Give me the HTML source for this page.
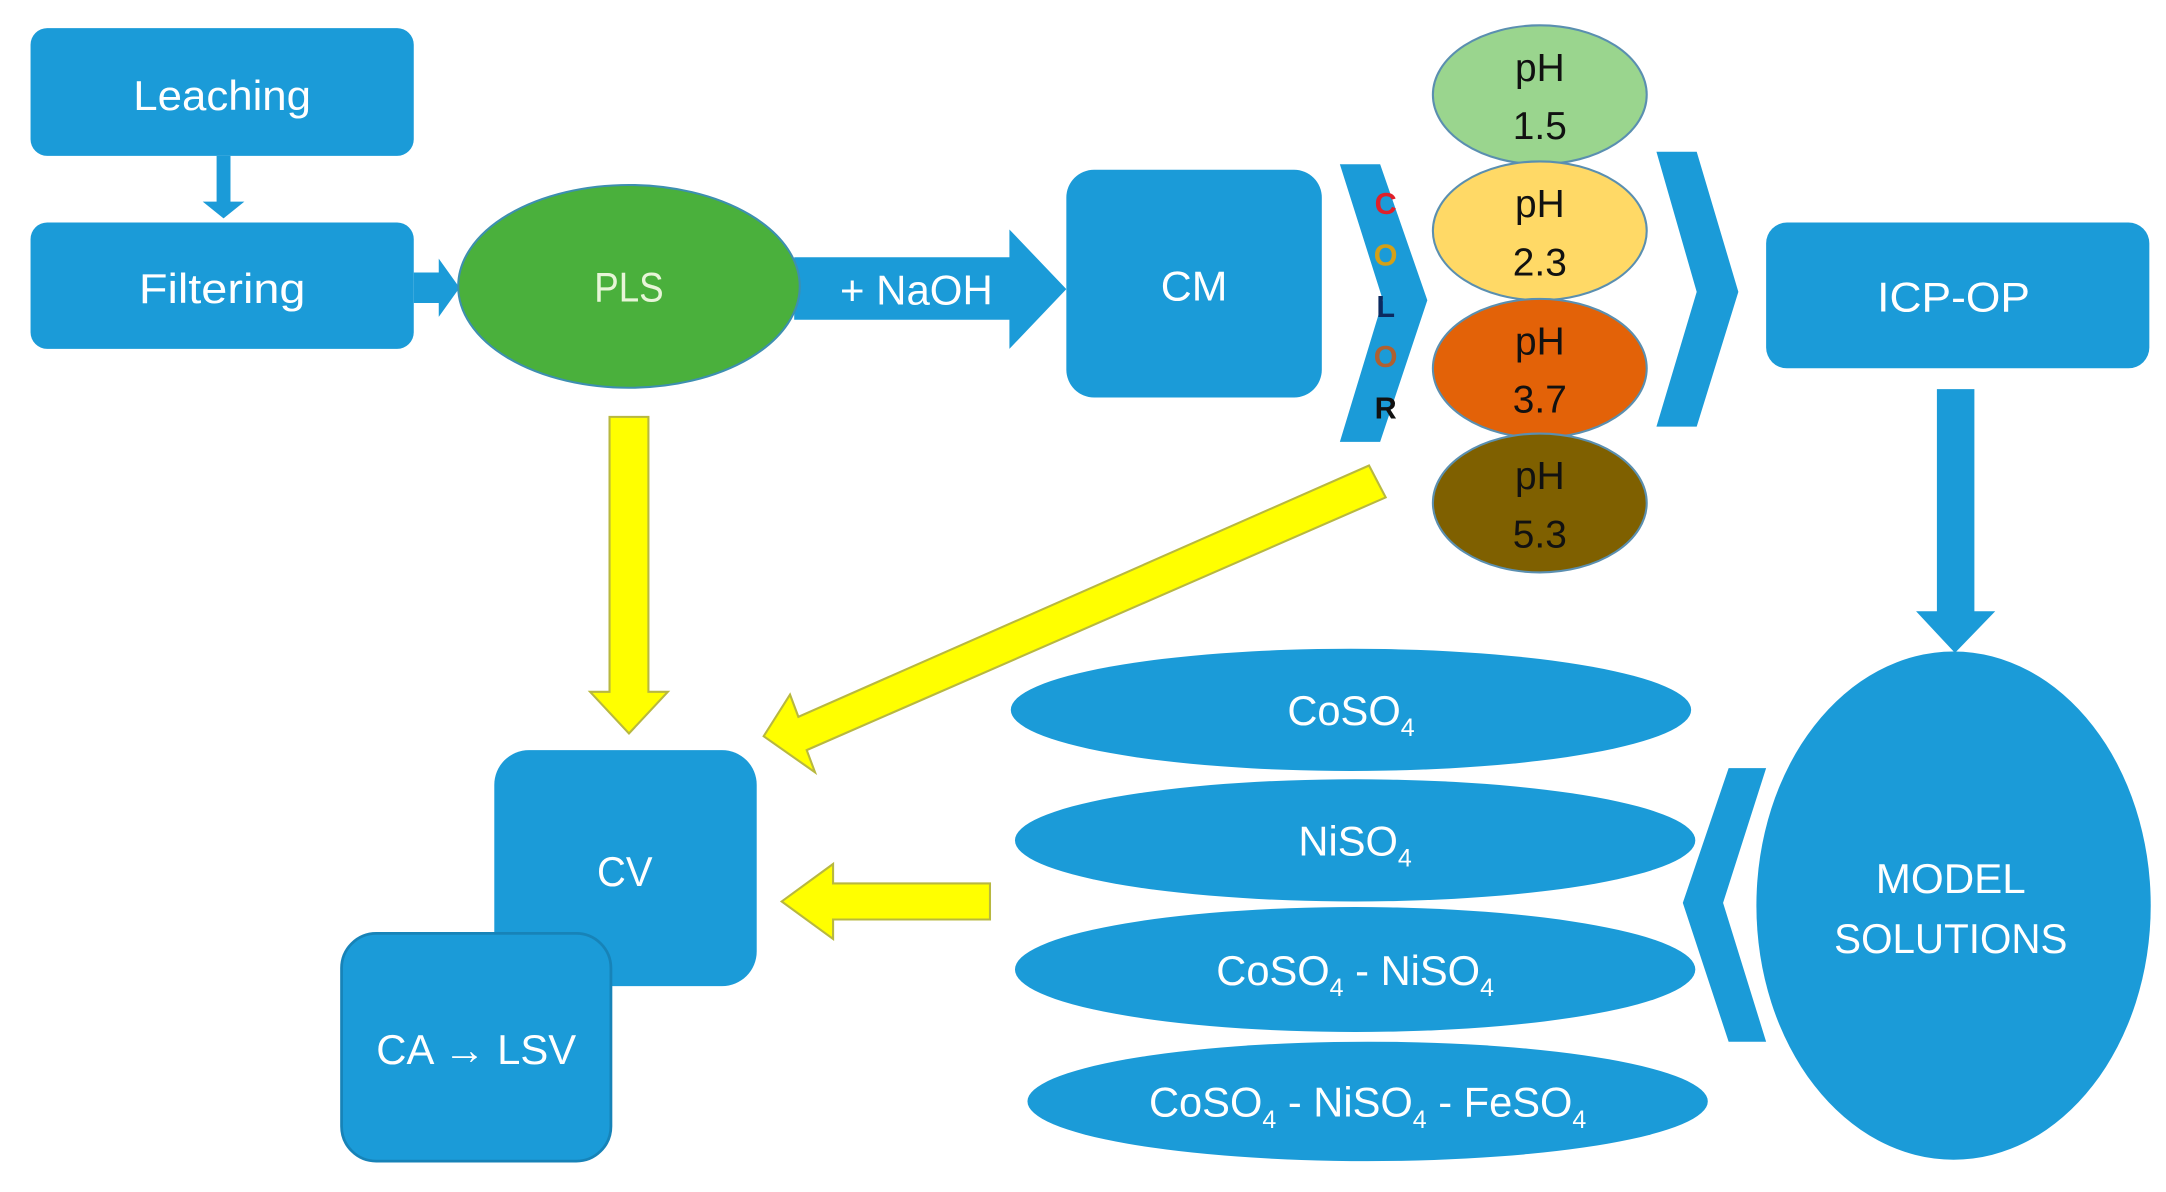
<!DOCTYPE html>
<html><head><meta charset="utf-8"><style>
html,body{margin:0;padding:0;background:#fff;}
svg{display:block}
text{font-family:"Liberation Sans",sans-serif;}
</style></head><body>
<svg width="2166" height="1192" viewBox="0 0 1560 858" xmlns="http://www.w3.org/2000/svg">
<g fill="#1b9bd8">
<rect x="22" y="20" width="276" height="92" rx="12"/>
<polygon points="156,112 166,112 166,145 176,145 161,157 146,145 156,145"/>
<rect x="22" y="160" width="276" height="91" rx="12"/>
<polygon points="298,196 316,196 316,186 331,207 316,228 316,218 298,218"/>
<polygon points="572,185 727,185 727,165 768,208 727,251 727,230 572,230"/>
<rect x="768" y="122" width="184" height="164" rx="20"/>
<polygon points="965,118 994,118 1028,216 994,318 965,318 996,216"/>
<polygon points="1193,109 1222,109 1252,210 1222,307 1193,307 1222,210"/>
<rect x="1272" y="160" width="276" height="105" rx="15"/>
<polygon points="1395,280 1422,280 1422,440 1437,440 1408,470 1380,440 1395,440"/>
<ellipse cx="1407" cy="652" rx="142" ry="183"/>
<polygon points="1245,553 1272,553 1241,650 1272,750 1245,750 1212,650"/>
<ellipse cx="973" cy="511" rx="245" ry="44"/>
<ellipse cx="976" cy="605" rx="245" ry="44"/>
<ellipse cx="976" cy="698" rx="245" ry="45"/>
<ellipse cx="985" cy="793" rx="245" ry="43"/>
<rect x="356" y="540" width="189" height="170" rx="25"/>
<rect x="246" y="672" width="194" height="164" rx="25" stroke="#1783b8" stroke-width="2"/>
</g>
<ellipse cx="453" cy="206" rx="123" ry="73" fill="#4ab03c" stroke="#3d8fb0" stroke-width="1.5"/>
<g stroke="#5a8fb0" stroke-width="1.5">
<ellipse cx="1109" cy="68" rx="77" ry="50" fill="#9ad58e"/>
<ellipse cx="1109" cy="166" rx="77" ry="50" fill="#ffd966"/>
<ellipse cx="1109" cy="265" rx="77" ry="50" fill="#e36208"/>
<ellipse cx="1109" cy="362" rx="77" ry="50" fill="#7f6000"/>
</g>
<g fill="#ffff00" stroke="#b8b840" stroke-width="1.5">
<polygon points="439,300 467,300 467,498 481,498 453,528 425,498 439,498"/>
<polygon points="986,335 998,358 581,540 587,556 550,530 569,500 575,516"/>
<polygon points="713,636 713,662 600,662 600,676 563,649 600,622 600,636"/>
</g>
<g fill="#fff" font-size="30" text-anchor="middle">
<text x="160" y="79" textLength="128" lengthAdjust="spacingAndGlyphs">Leaching</text>
<text x="160" y="218" textLength="120" lengthAdjust="spacingAndGlyphs">Filtering</text>
<text x="453" y="217" fill="#e8f5d8" textLength="50" lengthAdjust="spacingAndGlyphs">PLS</text>
<text x="660" y="219" textLength="110" lengthAdjust="spacingAndGlyphs">+ NaOH</text>
<text x="860" y="216" textLength="48" lengthAdjust="spacingAndGlyphs">CM</text>
<text x="1407" y="224" textLength="110" lengthAdjust="spacingAndGlyphs">ICP-OP</text>
<text x="1405" y="643" textLength="108" lengthAdjust="spacingAndGlyphs">MODEL</text>
<text x="1405" y="686" textLength="168" lengthAdjust="spacingAndGlyphs">SOLUTIONS</text>
<text x="450" y="638" textLength="40" lengthAdjust="spacingAndGlyphs">CV</text>
<text x="343" y="766" textLength="144" lengthAdjust="spacingAndGlyphs">CA → LSV</text>
<text x="973" y="522">CoSO<tspan font-size="18" dy="8">4</tspan></text>
<text x="976" y="616">NiSO<tspan font-size="18" dy="8">4</tspan></text>
<text x="976" y="709">CoSO<tspan font-size="18" dy="8">4</tspan><tspan dy="-8"> - NiSO</tspan><tspan font-size="18" dy="8">4</tspan></text>
<text x="985" y="804">CoSO<tspan font-size="18" dy="8">4</tspan><tspan dy="-8"> - NiSO</tspan><tspan font-size="18" dy="8">4</tspan><tspan dy="-8"> - FeSO</tspan><tspan font-size="18" dy="8">4</tspan></text>
</g>
<g fill="#111" font-size="28" text-anchor="middle">
<text x="1109" y="58">pH</text><text x="1109" y="100">1.5</text>
<text x="1109" y="156">pH</text><text x="1109" y="198">2.3</text>
<text x="1109" y="255">pH</text><text x="1109" y="297">3.7</text>
<text x="1109" y="352">pH</text><text x="1109" y="394">5.3</text>
</g>
<g font-size="22" font-weight="bold" text-anchor="middle">
<text x="998" y="154" fill="#e0202a">C</text>
<text x="998" y="191" fill="#d4a017">O</text>
<text x="998" y="228" fill="#0b2a60">L</text>
<text x="998" y="264" fill="#b06030">O</text>
<text x="998" y="301" fill="#111">R</text>
</g>
</svg>
</body></html>
